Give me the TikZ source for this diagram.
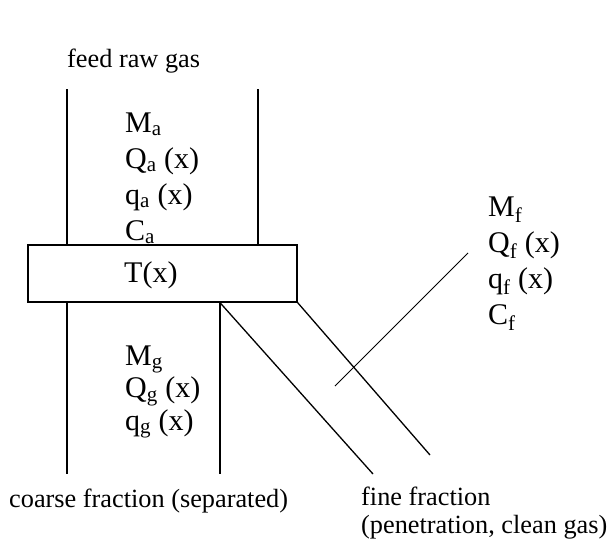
\documentclass[tikz,border=0pt]{standalone}
\usepackage{fontspec}
\setmainfont{Liberation Serif}
\usetikzlibrary{positioning}
\begin{document}
\begin{tikzpicture}[x=1pt, y=-1pt, font=\fontsize{26.3}{30}\selectfont,
  wall/.style={line width=1.3pt},
  lbl/.style={anchor=base west, inner sep=0pt},
  qty/.style={lbl, font=\fontsize{30}{34}\selectfont},
  ptr/.style={line width=0.9pt},
  sepbox/.style={draw, wall, fill=white, minimum width=269pt, minimum height=57pt, inner sep=0pt}
]
\useasboundingbox (0,0) rectangle (608,544);

% raw gas quantities
\foreach \t [count=\i] in {M\textsubscript{a}, Q\textsubscript{a} (x), q\textsubscript{a} (x), C\textsubscript{a}}
  \node[qty] (a\i) at (125,96+36*\i) {\t};

% separator
\node[sepbox] (sep) at (162.5,273.5) {};
\node[qty] (tx) at (124,282) {T(x)};

% coarse and fine quantities
\foreach \t [count=\i] in {M\textsubscript{g}, Q\textsubscript{g} (x), q\textsubscript{g} (x)}
  \node[qty] (g\i) at (125,332.5+32.5*\i) {\t};
\foreach \t [count=\i] in {M\textsubscript{f}, Q\textsubscript{f} (x), q\textsubscript{f} (x), C\textsubscript{f}}
  \node[qty] (f\i) at (488,180+36*\i) {\t};

% pipe walls
\coordinate (inl) at (67,89);
\coordinate (inr) at (258,89);
\coordinate (crl) at (67,474);
\coordinate (crr) at (220,474);
\coordinate (fnl) at (373,474);
\coordinate (fnr) at (430,455);
\draw[wall] (inl) -- (inl |- sep.north);
\draw[wall] (inr) -- (inr |- sep.north);
\draw[wall] (crl |- sep.south) -- (crl);
\draw[wall] (crr |- sep.south) -- (crr);
\draw[wall] (crr |- sep.south) -- (fnl);
\draw[wall] (sep.south east) -- (fnr);

% pointer to fine fraction
\coordinate (pa) at (335,386);
\coordinate (pb) at (468,253);
\draw[ptr] (pa) -- (pb);

% stream names
\node[lbl] (feed) at (67,67) {feed raw gas};
\node[lbl] (coarse) at (9,507) {coarse fraction (separated)};
\node[lbl] (fine) at (361,505) {fine fraction};
\node[lbl] (fine2) at (361,533) {(penetration, clean gas)};
\end{tikzpicture}
\end{document}
